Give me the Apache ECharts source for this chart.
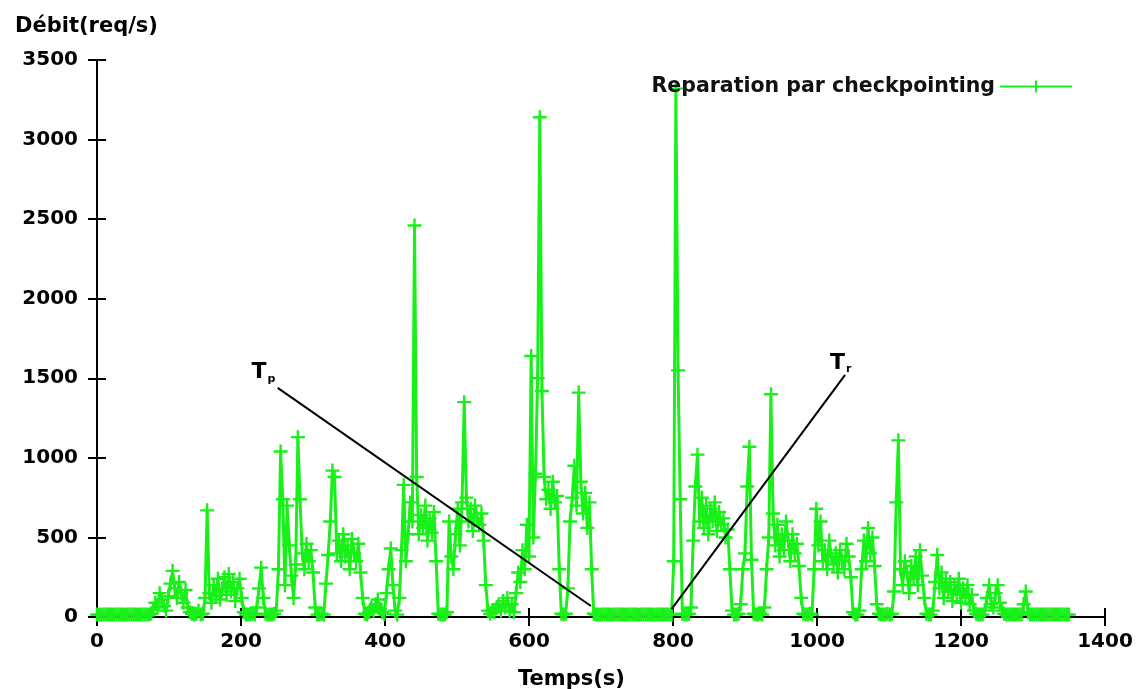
<!DOCTYPE html>
<html>
<head>
<meta charset="utf-8">
<script src="https://cdn.jsdelivr.net/npm/echarts@6/dist/echarts.min.js"></script>
<style>
html,body{margin:0;padding:0;background:#fff;}
#chart{width:1140px;height:689px;}
</style>
</head>
<body>
<div id="chart"></div>
<script>
// Sampling step of the measurement (seconds between samples)
const sampleStep = 3;
// Throughput samples (req/s), one per sampleStep seconds starting at t=0; each row = 30 s
const throughput = [
  15,15,14,15,16,15,15,14,15,15,
  16,15,15,14,15,15,15,16,15,14,
  15,15,15,16,15,20,45,90,60,150,
  110,70,40,130,210,290,180,120,220,150,
  90,170,60,30,20,15,20,40,15,20,
  120,670,150,90,200,130,240,110,180,250,
  140,270,160,220,100,180,240,120,30,15,
  15,15,20,15,60,180,310,120,20,15,
  15,15,20,40,300,1040,740,200,700,450,
  260,120,330,1130,740,400,300,460,350,420,
  280,60,15,15,20,15,210,390,600,920,
  880,400,480,350,520,380,450,300,490,400,
  350,460,280,120,20,15,30,60,40,80,
  110,50,30,20,150,300,430,200,40,15,
  120,420,830,350,520,720,600,2460,880,520,
  640,560,700,480,620,530,660,350,20,15,
  15,15,30,600,380,300,520,680,450,720,
  1350,750,600,680,540,700,620,580,650,480,
  200,40,20,40,30,60,80,40,100,60,
  120,40,80,30,150,280,220,420,300,580,
  380,1640,500,900,1500,3140,1420,880,740,800,
  680,850,720,760,300,20,15,20,180,600,
  750,950,700,1410,850,650,780,560,720,300,
  20,15,15,14,15,16,15,15,14,15,
  15,15,16,15,15,14,15,15,15,16,
  15,14,15,15,15,16,15,15,14,15,
  15,15,16,15,15,14,15,350,3320,1550,
  740,20,15,15,20,60,480,820,1020,600,
  750,560,700,520,680,600,720,540,660,580,
  620,500,550,300,40,15,15,20,80,300,
  400,820,1070,360,20,15,15,20,15,60,
  300,500,1400,650,450,580,380,520,420,600,
  480,350,520,400,460,320,120,20,15,15,
  20,15,300,680,450,600,350,420,300,480,
  380,330,400,280,420,350,300,460,380,250,
  30,15,15,40,300,480,350,560,400,500,
  320,80,20,15,15,15,20,15,20,160,
  720,1110,300,200,350,280,150,320,240,380,
  200,420,260,120,20,15,15,40,220,390,
  180,280,120,240,160,220,100,200,140,240,
  90,180,120,200,80,140,40,20,15,15,
  15,40,120,200,80,60,150,200,90,40,
  20,15,15,15,15,15,15,15,15,80,
  160,30,15,15,15,15,15,15,15,15,
  15,15,15,15,15,15,15,15,15,15,
  15
];
// Axis tick values
const xTicks = [0,200,400,600,800,1000,1200,1400];
const yTicks = [0,500,1000,1500,2000,2500,3000,3500];
// Annotation arrows: [label end], [target point] in data units
const tpLine = [[251,1440],[686,69]];
const trLine = [[1039,1522],[798,50]];
// Annotation label anchors (data units)
const tpLabel = [231,1535];
const trLabel = [1033,1595];
const seriesName = 'Reparation par checkpointing';

const points = throughput.map((v,i)=>[i*sampleStep, v]);
const green = '#19f019';
const plus = 'path://M0,4.8H14V7.2H0Z M5.8,-1H8.2V13H5.8Z';
const labelFont = {fontFamily:'DejaVu Sans', fontWeight:'bold', fontSize:20, color:'#000'};

const chart = echarts.init(document.getElementById('chart'), null, {renderer:'canvas'});
const axisCommon = {
  type:'value',
  axisLine:{show:true, lineStyle:{color:'#000', width:2}},
  axisTick:{show:true, inside:true, length:9, lineStyle:{color:'#000', width:2}},
  splitLine:{show:false}
};
chart.setOption({
  animation:false,
  backgroundColor:'#fff',
  title:[
    {
      text:'Débit(req/s)', left:10, top:11,
      textStyle:{fontFamily:'DejaVu Sans', fontWeight:'bold', fontSize:21, color:'#000'}
    },
    {
      text:'Temps(s)', left:513, top:664,
      textStyle:{fontFamily:'DejaVu Sans', fontWeight:'bold', fontSize:21, color:'#000'}
    }
  ],
  legend:{
    data:[{name:seriesName, icon:'path://M0,5H72V7H0Z M35,0H37V12H35Z'}],
    right:63, top:71, align:'right', itemWidth:72, itemHeight:12, itemGap:12,
    textStyle:{fontFamily:'DejaVu Sans', fontWeight:'bold', fontSize:20.5, color:'#111'},
    itemStyle:{color:green}
  },
  grid:{left:97, right:35, top:60, bottom:72, containLabel:false},
  xAxis:[
    Object.assign({}, axisCommon, {
      position:'bottom', min:xTicks[0], max:xTicks[xTicks.length-1], interval:200,
      axisLabel:Object.assign({margin:15, formatter:v=>String(v)}, labelFont)
    }),
    Object.assign({}, axisCommon, {
      position:'top', min:xTicks[0], max:xTicks[xTicks.length-1], interval:200,
      axisLabel:{show:false}
    })
  ],
  yAxis:[
    Object.assign({}, axisCommon, {
      position:'left', min:yTicks[0], max:yTicks[yTicks.length-1], interval:500,
      axisLabel:Object.assign({margin:19, formatter:v=>String(v)}, labelFont)
    }),
    Object.assign({}, axisCommon, {
      position:'right', min:yTicks[0], max:yTicks[yTicks.length-1], interval:500,
      axisLabel:{show:false}
    })
  ],
  series:[
    {
      name:seriesName, type:'line', data:points,
      xAxisIndex:0, yAxisIndex:0,
      symbol:plus, symbolSize:14, showSymbol:true,
      lineStyle:{color:green, width:3},
      itemStyle:{color:green},
      z:2,
      markLine:{
        silent:true, animation:false,
        symbol:['none','circle'], symbolSize:[0,8],
        lineStyle:{color:'#000', width:2, type:'solid'},
        label:{show:false},
        data:[
          [{coord:tpLine[0]},{coord:tpLine[1]}],
          [{coord:trLine[0]},{coord:trLine[1]}]
        ]
      },
      markPoint:{
        silent:true, animation:false,
        symbol:'circle', symbolSize:1, itemStyle:{color:'rgba(0,0,0,0)'},
        label:{
          show:true, position:'inside',
          formatter:p=>'{t|T}{s|'+p.name+'}',
          rich:{
            t:{fontFamily:'DejaVu Sans', fontWeight:'bold', fontSize:22, color:'#000'},
            s:{fontFamily:'DejaVu Sans', fontWeight:'bold', fontSize:11, color:'#000', padding:[12,0,0,1]}
          }
        },
        data:[
          {name:'p', coord:tpLabel},
          {name:'r', coord:trLabel}
        ]
      }
    }
  ]
});
</script>
</body>
</html>
